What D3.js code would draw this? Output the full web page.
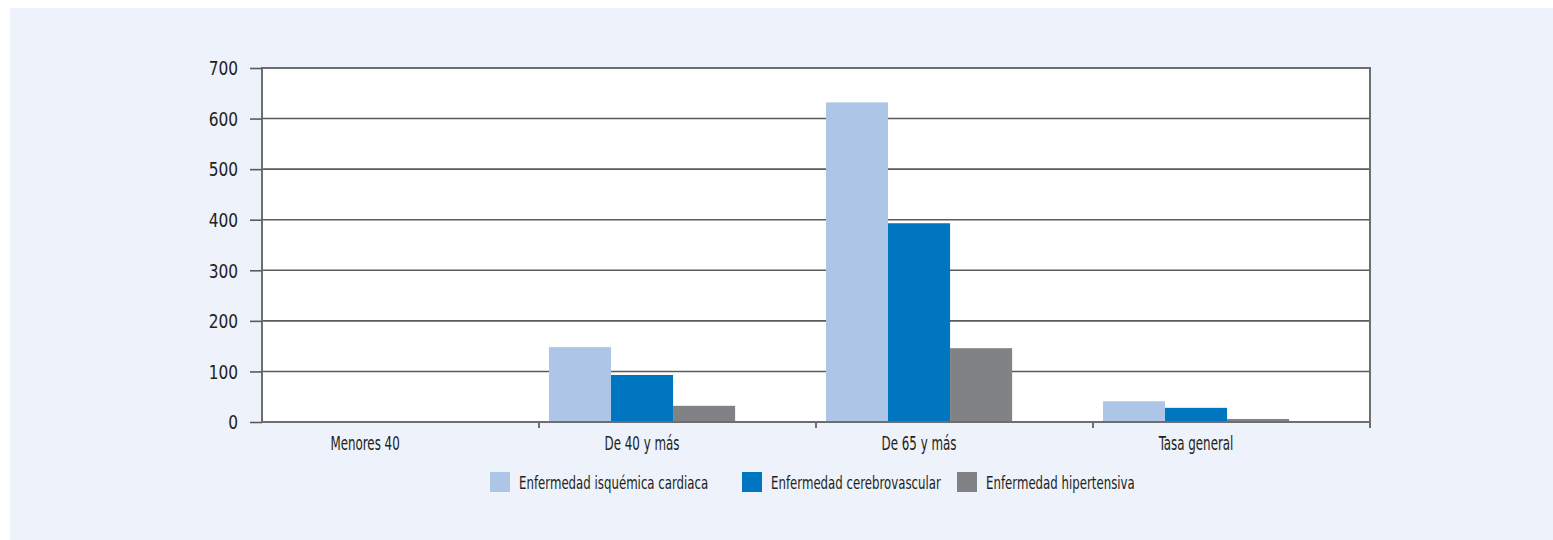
<!DOCTYPE html>
<html>
<head>
<meta charset="utf-8">
<script src="https://cdn.jsdelivr.net/npm/d3@7"></script>
<style>
  html, body { margin: 0; padding: 0; background: #fff; }
  svg text { font-family: "DejaVu Sans Condensed", "Liberation Sans Narrow", sans-serif; fill: #231f20; }
</style>
</head>
<body>
<div id="chart"></div>
<script>
// Data
const categories = ["Menores 40", "De 40 y más", "De 65 y más", "Tasa general"];
const seriesNames = ["Enfermedad isquémica cardiaca", "Enfermedad cerebrovascular", "Enfermedad hipertensiva"];
const isquemica = [1, 148, 632, 41];
const cerebro = [2, 93, 393, 28];
const hipertensiva = [0.5, 32, 146, 6];
const yTicks = [0, 100, 200, 300, 400, 500, 600, 700];
const colors = ["#adc5e7", "#0075c0", "#808285"];

const width = 1553;
const height = 540;
const margin = { top: 68, right: 183, bottom: 118, left: 262 };

const svg = d3.select("#chart")
  .append("svg")
  .attr("width", width)
  .attr("height", height);

// panel background
svg.append("rect")
  .attr("x", 10).attr("y", 8)
  .attr("width", width - 10).attr("height", height - 8)
  .attr("fill", "#eef2fa");

const plotW = width - margin.left - margin.right;
const plotH = height - margin.top - margin.bottom;

const g = svg.append("g").attr("transform", `translate(${margin.left},${margin.top})`);

g.append("rect")
  .attr("width", plotW).attr("height", plotH)
  .attr("fill", "#fff");

const x0 = d3.scaleBand().domain(categories).range([0, plotW]).padding(0);
const groupStart = x0.bandwidth() * 0.036;
const groupW = x0.bandwidth() * 0.672;
const x1 = d3.scaleBand().domain(d3.range(3)).range([0, groupW]).padding(0);
const y = d3.scaleLinear().domain([0, 700]).range([plotH, 0]);

// gridlines
g.selectAll(".grid")
  .data(yTicks.slice(1))
  .enter()
  .append("line")
  .attr("class", "grid")
  .attr("x1", 0).attr("x2", plotW)
  .attr("y1", (d) => y(d)).attr("y2", (d) => y(d))
  .attr("stroke", "#5a5a5a")
  .attr("stroke-width", 1.6);

// bars
const seriesData = [isquemica, cerebro, hipertensiva];
seriesData.forEach((vals, s) => {
  g.selectAll(".bar" + s)
    .data(vals)
    .enter()
    .append("rect")
    .attr("class", "bar" + s)
    .attr("x", (d, i) => x0(categories[i]) + groupStart + x1(s))
    .attr("y", (d) => y(d))
    .attr("width", x1.bandwidth())
    .attr("height", (d) => plotH - y(d))
    .attr("fill", colors[s]);
});

// frame: left, top, right
g.append("path")
  .attr("d", `M0,${plotH}V0H${plotW}V${plotH}`)
  .attr("fill", "none")
  .attr("stroke", "#6d6e71")
  .attr("stroke-width", 2);

// y axis
const yAxis = g.append("g")
  .call(d3.axisLeft(y).tickValues(yTicks).tickSize(12).tickPadding(12));
yAxis.select(".domain").remove();
yAxis.selectAll(".tick line").attr("stroke", "#5a5a5a").attr("stroke-width", 1.6);
yAxis.selectAll("text")
  .attr("font-size", 19)
  .attr("fill", "#231f20")
  .attr("font-family", null)
  .attr("class", "ylabel")
  .attr("dy", "0.36em");

// x axis baseline + category ticks
g.append("line")
  .attr("x1", 0).attr("x2", plotW)
  .attr("y1", plotH).attr("y2", plotH)
  .attr("stroke", "#6d6e71").attr("stroke-width", 2);

g.selectAll(".xtick")
  .data(categories.slice(1).concat(["end"]))
  .enter()
  .append("line")
  .attr("x1", (d, i) => x0.bandwidth() * (i + 1))
  .attr("x2", (d, i) => x0.bandwidth() * (i + 1))
  .attr("y1", plotH).attr("y2", plotH + 6)
  .attr("stroke", "#6d6e71").attr("stroke-width", 2);

g.selectAll(".xlabel")
  .data(categories)
  .enter()
  .append("text")
  .attr("class", "xlabel")
  .attr("x", (d) => x0(d) + groupStart + groupW / 2)
  .attr("y", plotH + 28)
  .attr("text-anchor", "middle")
  .attr("font-size", 20)
  .text((d) => d);

// legend
const legendX = [490, 742, 957];
const legend = svg.append("g");
seriesNames.forEach((name, i) => {
  legend.append("rect")
    .attr("x", legendX[i]).attr("y", 472)
    .attr("width", 20).attr("height", 20)
    .attr("fill", colors[i]);
  legend.append("text")
    .attr("class", "legend")
    .attr("x", legendX[i] + 29).attr("y", 489)
    .attr("font-size", 17)
    .text(name);
});

// squeeze text horizontally to mimic the condensed face of the original
function squeeze(sel, k) {
  sel.each(function () {
    const len = this.getComputedTextLength();
    d3.select(this)
      .attr("textLength", len * k)
      .attr("lengthAdjust", "spacingAndGlyphs");
  });
}
squeeze(svg.selectAll(".ylabel"), 0.9);
squeeze(svg.selectAll(".xlabel"), 0.66);
squeeze(svg.selectAll(".legend"), 0.77);
</script>
</body>
</html>
